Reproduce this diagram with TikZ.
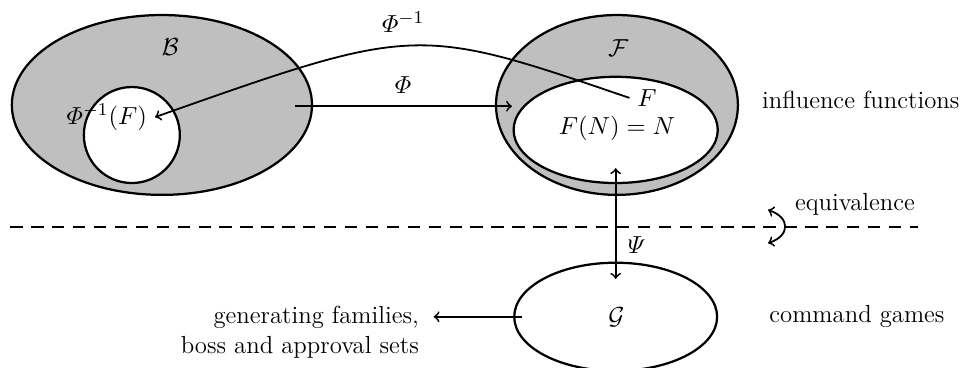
\documentclass[tikz,border=0pt]{standalone}
\usepackage{amsmath,amssymb}
\usetikzlibrary{shapes.geometric}

\begin{document}
\begin{tikzpicture}[
    >=To,
    every node/.style={font=\fontsize{11}{13.6}\selectfont},
    set/.style={ellipse, draw, line width=1pt, inner sep=0pt},
    shaded/.style={set, fill=gray!50},
    maparrow/.style={thick, ->},
]
\useasboundingbox (0,0) rectangle (15,5.75);

% =============================================
% LEFT: set B with the preimage of F
% =============================================
\node[shaded, minimum width=4.69cm, minimum height=2.81cm] (B) at (2.53,4.11) {};
\node[set, circle, fill=white, minimum size=1.5cm] (pre) at (2.06,3.64) {};
\node (Blabel) at (2.66,5.02) {$\mathcal{B}$};
\node (preinv) at (1.67,3.92) {$\varPhi^{-1}(F)$};

% =============================================
% RIGHT: set F with the normalised functions
% =============================================
\node[shaded, minimum width=3.78cm, minimum height=2.81cm] (Fset) at (9.64,4.11) {};
\node[set, fill=white, minimum width=3.19cm, minimum height=1.66cm] (norm) at (9.62,3.72) {};
\node (Flabel) at (9.66,5.0) {$\mathcal{F}$};
\node (Fel) at (10.11,4.22) {$F$};
\node (FN) at (9.64,3.75) {$F(N) = N$};
\node (infl) at (13.45,4.19) {influence functions};

% =============================================
% BOTTOM: command games
% =============================================
\node[set, minimum width=3.17cm, minimum height=1.69cm] (G) at (9.62,0.80) {};
\node (Glabel) at (9.63,0.80) {$\mathcal{G}$};
\node (games) at (13.39,0.80) {command games};
\node[anchor=east, align=right] (gen) at (6.67,0.56) {generating families,\\ boss and approval sets};

% Separator
\draw[thick, dash pattern=on 5.5pt off 3.8pt] (0.16,2.2) -- (14.34,2.2);

% =============================================
% MAPS
% =============================================
\coordinate (phistart) at (4.61,4.09);
\coordinate (phiend) at (8.0,4.09);
\draw[maparrow] (phistart) -- (phiend);
\node (philabel) at (6.30,4.42) {$\varPhi$};

\draw[maparrow] (Fel.west) .. controls (6.5,5.36) .. (preinv.east);
\node (phiinvlabel) at (6.30,5.41) {$\varPhi^{-1}$};

\draw[thick, <->] ([yshift=0.25cm]norm.south) -- ([yshift=-0.27cm]G.north);
\node (psilabel) at (9.95,1.92) {$\varPsi$};

\draw[maparrow, shorten >=3pt] ([xshift=4pt]G.west) -- (gen.east |- G.center);

% Equivalence
\coordinate (eqtop) at (12.0,2.47);
\coordinate (eqbot) at (12.0,1.95);
\draw[thick, <->] (eqtop) .. controls (12.35,2.35) and (12.35,2.07) .. (eqbot);
\node (equiv) at (13.36,2.55) {equivalence};

\end{tikzpicture}
\end{document}
